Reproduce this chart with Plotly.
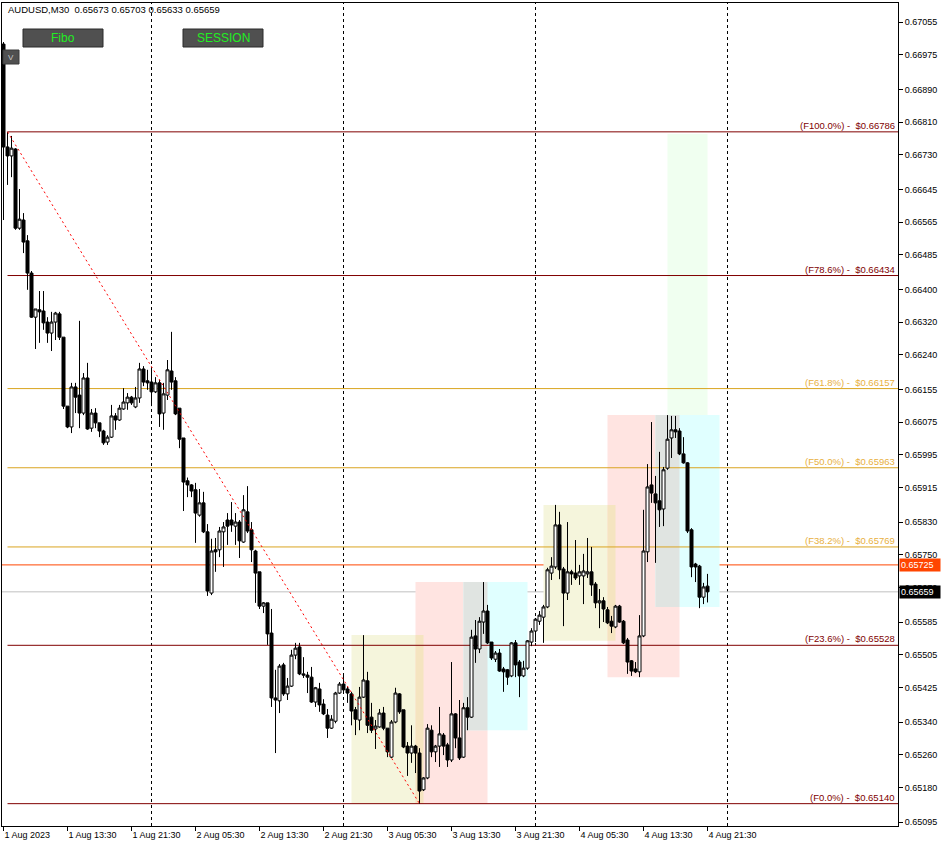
import pandas as pd
import plotly.graph_objects as go

# ---------------- data ----------------
symbol_text = "AUDUSD,M30  0.65673 0.65703 0.65633 0.65659"
bar_start = "2023-08-01 05:30"
n_bars = 177
times = pd.date_range(bar_start, periods=n_bars, freq="30min")

opens = [0.67001, 0.66749, 0.66727, 0.66744, 0.66550, 0.66570, 0.66519, 0.66440, 0.66332, 0.66350,
         0.66347, 0.66320, 0.66293, 0.66320, 0.66340, 0.66283, 0.66114, 0.66063, 0.66161, 0.66141,
         0.66097, 0.66183, 0.66060, 0.66097, 0.66073, 0.66053, 0.66026, 0.66038, 0.66090, 0.66080,
         0.66107, 0.66122, 0.66136, 0.66112, 0.66134, 0.66205, 0.66176, 0.66173, 0.66149, 0.66171,
         0.66097, 0.66141, 0.66200, 0.66176, 0.66109, 0.66036, 0.65931, 0.65921, 0.65909, 0.65847,
         0.65877, 0.65806, 0.65656, 0.65762, 0.65762, 0.65806, 0.65835, 0.65835, 0.65820, 0.65830,
         0.65781, 0.65855, 0.65811, 0.65759, 0.65708, 0.65624, 0.65632, 0.65558, 0.65399, 0.65392,
         0.65480, 0.65409, 0.65428, 0.65504, 0.65524, 0.65458, 0.65455, 0.65450, 0.65389, 0.65421,
         0.65384, 0.65357, 0.65325, 0.65342, 0.65411, 0.65433, 0.65421, 0.65409, 0.65370, 0.65345,
         0.65401, 0.65441, 0.65352, 0.65323, 0.65328, 0.65362, 0.65325, 0.65254, 0.65340, 0.65409,
         0.65370, 0.65281, 0.65264, 0.65281, 0.65264, 0.65174, 0.65203, 0.65320, 0.65267, 0.65281,
         0.65308, 0.65284, 0.65247, 0.65360, 0.65301, 0.65254, 0.65375, 0.65352, 0.65551, 0.65519,
         0.65585, 0.65612, 0.65536, 0.65494, 0.65509, 0.65470, 0.65468, 0.65453, 0.65534, 0.65487,
         0.65453, 0.65472, 0.65536, 0.65563, 0.65587, 0.65597, 0.65622, 0.65705, 0.65720, 0.65823,
         0.65715, 0.65656, 0.65708, 0.65705, 0.65698, 0.65698, 0.65703, 0.65708, 0.65678, 0.65632,
         0.65637, 0.65615, 0.65587, 0.65573, 0.65624, 0.65587, 0.65541, 0.65490, 0.65470, 0.65463,
         0.65551, 0.65757, 0.65921, 0.65899, 0.65882, 0.65862, 0.65962, 0.66036, 0.66056, 0.66053,
         0.65997, 0.65975, 0.65811, 0.65727, 0.65722, 0.65646, 0.65673]

highs = [0.67006, 0.66786, 0.66776, 0.66746, 0.66646, 0.66587, 0.66533, 0.66445, 0.66352, 0.66396,
         0.66396, 0.66332, 0.66345, 0.66345, 0.66345, 0.66283, 0.66114, 0.66171, 0.66171, 0.66323,
         0.66195, 0.66220, 0.66107, 0.66109, 0.66073, 0.66056, 0.66043, 0.66117, 0.66097, 0.66117,
         0.66158, 0.66146, 0.66139, 0.66161, 0.66220, 0.66212, 0.66203, 0.66210, 0.66185, 0.66178,
         0.66171, 0.66227, 0.66296, 0.66185, 0.66109, 0.66036, 0.65939, 0.65923, 0.65926, 0.65911,
         0.65904, 0.65825, 0.65789, 0.65791, 0.65818, 0.65830, 0.65852, 0.65879, 0.65852, 0.65835,
         0.65896, 0.65918, 0.65830, 0.65762, 0.65708, 0.65634, 0.65632, 0.65617, 0.65468, 0.65482,
         0.65485, 0.65448, 0.65517, 0.65534, 0.65534, 0.65499, 0.65463, 0.65475, 0.65426, 0.65436,
         0.65396, 0.65372, 0.65357, 0.65414, 0.65438, 0.65458, 0.65426, 0.65414, 0.65377, 0.65426,
         0.65553, 0.65463, 0.65387, 0.65345, 0.65372, 0.65377, 0.65325, 0.65345, 0.65424, 0.65411,
         0.65370, 0.65291, 0.65332, 0.65284, 0.65276, 0.65205, 0.65335, 0.65332, 0.65284, 0.65377,
         0.65313, 0.65289, 0.65487, 0.65362, 0.65394, 0.65387, 0.65401, 0.65566, 0.65590, 0.65597,
         0.65683, 0.65627, 0.65536, 0.65514, 0.65519, 0.65475, 0.65470, 0.65536, 0.65541, 0.65492,
         0.65490, 0.65541, 0.65570, 0.65595, 0.65612, 0.65627, 0.65718, 0.65744, 0.65872, 0.65855,
         0.65720, 0.65830, 0.65713, 0.65786, 0.65725, 0.65752, 0.65791, 0.65769, 0.65683, 0.65666,
         0.65646, 0.65622, 0.65600, 0.65627, 0.65627, 0.65590, 0.65546, 0.65492, 0.65487, 0.65602,
         0.65860, 0.65972, 0.66075, 0.65943, 0.66002, 0.65965, 0.66092, 0.66090, 0.66090, 0.66060,
         0.66038, 0.65977, 0.65815, 0.65730, 0.65725, 0.65681, 0.65703]

lows = [0.66570, 0.66656, 0.66675, 0.66546, 0.66546, 0.66489, 0.66399, 0.66330, 0.66254, 0.66269,
        0.66301, 0.66269, 0.66249, 0.66276, 0.66276, 0.66107, 0.66060, 0.66048, 0.66097, 0.66060,
        0.66092, 0.66056, 0.66051, 0.66060, 0.66038, 0.66019, 0.66019, 0.66036, 0.66056, 0.66078,
        0.66105, 0.66105, 0.66117, 0.66109, 0.66122, 0.66163, 0.66154, 0.66114, 0.66146, 0.66063,
        0.66056, 0.66129, 0.66154, 0.66092, 0.66011, 0.65857, 0.65891, 0.65891, 0.65779, 0.65843,
        0.65803, 0.65649, 0.65651, 0.65708, 0.65744, 0.65720, 0.65774, 0.65806, 0.65774, 0.65742,
        0.65779, 0.65803, 0.65732, 0.65632, 0.65617, 0.65607, 0.65529, 0.65377, 0.65264, 0.65362,
        0.65404, 0.65394, 0.65426, 0.65494, 0.65455, 0.65448, 0.65411, 0.65387, 0.65377, 0.65365,
        0.65357, 0.65301, 0.65323, 0.65337, 0.65409, 0.65409, 0.65387, 0.65332, 0.65308, 0.65320,
        0.65399, 0.65313, 0.65313, 0.65274, 0.65326, 0.65320, 0.65254, 0.65252, 0.65337, 0.65360,
        0.65276, 0.65208, 0.65240, 0.65215, 0.65140, 0.65171, 0.65200, 0.65254, 0.65242, 0.65230,
        0.65259, 0.65230, 0.65242, 0.65276, 0.65247, 0.65252, 0.65320, 0.65350, 0.65485, 0.65509,
        0.65556, 0.65531, 0.65492, 0.65487, 0.65463, 0.65414, 0.65431, 0.65450, 0.65450, 0.65401,
        0.65450, 0.65468, 0.65526, 0.65536, 0.65578, 0.65534, 0.65619, 0.65688, 0.65715, 0.65690,
        0.65575, 0.65639, 0.65676, 0.65688, 0.65676, 0.65629, 0.65693, 0.65649, 0.65619, 0.65570,
        0.65585, 0.65580, 0.65558, 0.65570, 0.65583, 0.65531, 0.65458, 0.65453, 0.65460, 0.65450,
        0.65548, 0.65732, 0.65877, 0.65730, 0.65818, 0.65820, 0.65958, 0.65987, 0.66036, 0.65994,
        0.65973, 0.65803, 0.65695, 0.65683, 0.65619, 0.65629, 0.65633]

closes = [0.66749, 0.66727, 0.66746, 0.66550, 0.66572, 0.66516, 0.66440, 0.66332, 0.66352, 0.66345,
          0.66318, 0.66293, 0.66320, 0.66342, 0.66283, 0.66114, 0.66063, 0.66161, 0.66136, 0.66097,
          0.66183, 0.66058, 0.66097, 0.66073, 0.66053, 0.66024, 0.66038, 0.66090, 0.66080, 0.66109,
          0.66124, 0.66136, 0.66122, 0.66134, 0.66205, 0.66173, 0.66171, 0.66149, 0.66171, 0.66095,
          0.66144, 0.66203, 0.66173, 0.66095, 0.66033, 0.65928, 0.65921, 0.65906, 0.65852, 0.65877,
          0.65806, 0.65661, 0.65759, 0.65757, 0.65808, 0.65818, 0.65820, 0.65823, 0.65830, 0.65784,
          0.65860, 0.65808, 0.65762, 0.65705, 0.65624, 0.65632, 0.65556, 0.65399, 0.65394, 0.65477,
          0.65409, 0.65428, 0.65504, 0.65521, 0.65458, 0.65455, 0.65450, 0.65389, 0.65424, 0.65382,
          0.65360, 0.65325, 0.65347, 0.65411, 0.65433, 0.65419, 0.65411, 0.65367, 0.65347, 0.65401,
          0.65443, 0.65332, 0.65320, 0.65330, 0.65362, 0.65325, 0.65267, 0.65340, 0.65411, 0.65365,
          0.65279, 0.65264, 0.65281, 0.65264, 0.65171, 0.65203, 0.65325, 0.65267, 0.65281, 0.65311,
          0.65281, 0.65247, 0.65360, 0.65301, 0.65252, 0.65375, 0.65352, 0.65548, 0.65519, 0.65587,
          0.65612, 0.65534, 0.65497, 0.65509, 0.65465, 0.65463, 0.65450, 0.65534, 0.65480, 0.65453,
          0.65472, 0.65539, 0.65563, 0.65592, 0.65602, 0.65622, 0.65713, 0.65722, 0.65823, 0.65713,
          0.65656, 0.65708, 0.65703, 0.65693, 0.65708, 0.65710, 0.65708, 0.65676, 0.65632, 0.65637,
          0.65617, 0.65583, 0.65575, 0.65624, 0.65585, 0.65534, 0.65487, 0.65465, 0.65463, 0.65551,
          0.65759, 0.65916, 0.65901, 0.65877, 0.65860, 0.65958, 0.66033, 0.66056, 0.66051, 0.65997,
          0.65975, 0.65808, 0.65720, 0.65720, 0.65646, 0.65671, 0.65659]

# Fibonacci levels
fib_pct = [100.0, 78.6, 61.8, 50.0, 38.2, 23.6, 0.0]
fib_price = [0.66786, 0.66434, 0.66157, 0.65963, 0.65769, 0.65528, 0.65140]
fib_colors = ["#800000", "#800000", "#DAA520", "#DAA520", "#DAA520", "#800000", "#800000"]
fib_label_colors = ["#800000", "#800000", "#E8B040", "#E8B040", "#E8B040", "#800000", "#800000"]
fib_anchor_bar = 1
fib_end_bar = 104

# Sessions
session_names = ["Asia", "London", "New York", "Asia", "London", "New York", "Range"]
session_start = ["2023-08-03 01:00", "2023-08-03 09:00", "2023-08-03 15:00",
                 "2023-08-04 01:00", "2023-08-04 09:00", "2023-08-04 15:00", "2023-08-04 16:30"]
session_end = ["2023-08-03 10:00", "2023-08-03 18:00", "2023-08-03 23:00",
               "2023-08-04 10:00", "2023-08-04 18:00", "2023-08-04 23:00", "2023-08-04 21:30"]
session_high = [0.65553, 0.65683, 0.65683, 0.65872, 0.66092, 0.66092, 0.66781]
session_low = [0.65140, 0.65140, 0.65320, 0.65539, 0.65450, 0.65622, 0.66092]
session_rgb = [(245, 245, 220), (255, 228, 225), (224, 255, 255),
               (245, 245, 220), (255, 228, 225), (224, 255, 255), (240, 255, 240)]
session_overlaps = [(0, 1), (1, 2), (3, 4), (4, 5)]

# Day separators
day_breaks = ["2023-08-02 00:00", "2023-08-03 00:00", "2023-08-04 00:00", "2023-08-05 00:00"]

# Price lines
ask_price = 0.65725
bid_price = 0.65659

# Axis ticks
y_ticks = [0.67055, 0.66975, 0.66890, 0.66810, 0.66730, 0.66645, 0.66565, 0.66485, 0.66400,
           0.66320, 0.66240, 0.66155, 0.66075, 0.65995, 0.65915, 0.65830, 0.65750, 0.65670,
           0.65585, 0.65505, 0.65425, 0.65340, 0.65260, 0.65180, 0.65095]
x_tick_labels = ["1 Aug 2023", "1 Aug 13:30", "1 Aug 21:30", "2 Aug 05:30", "2 Aug 13:30",
                 "2 Aug 21:30", "3 Aug 05:30", "3 Aug 13:30", "3 Aug 21:30", "4 Aug 05:30",
                 "4 Aug 13:30", "4 Aug 21:30"]
x_tick_step = 16

x_range = ["2023-08-01 05:18:45", "2023-08-05 21:18:45"]
y_range = [0.650853, 0.671017]

# ---------------- layout helpers ----------------
W, H = 942, 846
LM, RM, TM, BM = 2, 44, 3, 20
PW = W - LM - RM
PH = H - TM - BM


def px(x):
    return (x - LM) / PW


def py(y):
    return 1 - (y - TM) / PH


FONT = "Liberation Sans, Arial, sans-serif"

fig = go.Figure()

shapes = []
# session rectangles
for i in range(len(session_names)):
    r, g, b = session_rgb[i]
    shapes.append(dict(type="rect", xref="x", yref="y", x0=session_start[i], x1=session_end[i],
                       y0=session_low[i], y1=session_high[i], fillcolor=f"rgb({r},{g},{b})",
                       line=dict(width=0), layer="below"))
for a, b_ in session_overlaps:
    x0 = max(pd.Timestamp(session_start[a]), pd.Timestamp(session_start[b_]))
    x1 = min(pd.Timestamp(session_end[a]), pd.Timestamp(session_end[b_]))
    y0 = max(session_low[a], session_low[b_])
    y1 = min(session_high[a], session_high[b_])
    ca, cb = session_rgb[a], session_rgb[b_]
    c = tuple(ca[k] & cb[k] for k in range(3))
    shapes.append(dict(type="rect", xref="x", yref="y", x0=x0, x1=x1, y0=y0, y1=y1,
                       fillcolor=f"rgb({c[0]},{c[1]},{c[2]})", line=dict(width=0), layer="below"))

# day separators
for d in day_breaks:
    shapes.append(dict(type="line", xref="x", yref="paper", x0=d, x1=d, y0=0, y1=1,
                       line=dict(color="black", width=1, dash="3px,3px"), layer="below"))

# fib levels
for p, c in zip(fib_price, fib_colors):
    shapes.append(dict(type="line", xref="x", yref="y", x0=times[fib_anchor_bar], x1=x_range[1],
                       y0=p, y1=p, line=dict(color=c, width=1), layer="below"))

# ask / bid lines
shapes.append(dict(type="line", xref="paper", yref="y", x0=0, x1=1, y0=ask_price, y1=ask_price,
                   line=dict(color="#FF4500", width=1), layer="below"))
shapes.append(dict(type="line", xref="paper", yref="y", x0=0, x1=1, y0=bid_price, y1=bid_price,
                   line=dict(color="#C0C0C0", width=1), layer="below"))

# buttons
for (x0, x1) in [(23, 103), (183, 263)]:
    shapes.append(dict(type="rect", xref="paper", yref="paper", x0=px(x0), x1=px(x1),
                       y0=py(47), y1=py(29), fillcolor="#505050",
                       line=dict(color="#2A2A2A", width=1), layer="above"))
shapes.append(dict(type="rect", xref="paper", yref="paper", x0=px(3), x1=px(19),
                   y0=py(64), y1=py(50), fillcolor="#505050",
                   line=dict(color="#3A3A3A", width=1), layer="above"))

# fibo trend line
fig.add_trace(go.Scatter(x=[times[fib_anchor_bar], times[fib_end_bar]],
                         y=[highs[fib_anchor_bar], lows[fib_end_bar]],
                         mode="lines", line=dict(color="#FF0000", width=1, dash="2px,3px"),
                         hoverinfo="skip", showlegend=False))

fig.add_trace(go.Candlestick(
    x=times, open=opens, high=highs, low=lows, close=closes,
    increasing=dict(line=dict(color="black", width=1), fillcolor="white"),
    decreasing=dict(line=dict(color="black", width=1), fillcolor="black"),
    whiskerwidth=0, showlegend=False, hoverinfo="skip"))

annotations = []
for pct, p, c in zip(fib_pct, fib_price, fib_label_colors):
    annotations.append(dict(xref="paper", yref="y", x=px(896), y=p, xanchor="right", yanchor="bottom",
                            text=f"(F{pct:.1f}%) -\u00a0\u00a0${p:.5f}", showarrow=False,
                            font=dict(family=FONT, size=9.5, color=c), borderpad=0, yshift=0))

annotations.append(dict(xref="paper", yref="paper", x=px(6), y=py(10), xanchor="left",
                        yanchor="middle", text=symbol_text, showarrow=False,
                        font=dict(family=FONT, size=9.5, color="black")))
annotations.append(dict(xref="paper", yref="paper", x=px(63), y=py(38), xanchor="center",
                        yanchor="middle", text="Fibo", showarrow=False,
                        font=dict(family=FONT, size=12, color="#22EE22")))
annotations.append(dict(xref="paper", yref="paper", x=px(223), y=py(38), xanchor="center",
                        yanchor="middle", text="SESSION", showarrow=False,
                        font=dict(family=FONT, size=12, color="#22EE22")))
annotations.append(dict(xref="paper", yref="paper", x=px(11), y=py(57), xanchor="center",
                        yanchor="middle", text="V", showarrow=False,
                        font=dict(family=FONT, size=8, color="#C8C8C8")))
# price tags
annotations.append(dict(xref="paper", yref="y", x=1, y=ask_price, xanchor="left", yanchor="middle",
                        xshift=1, text=f"{ask_price:.5f}\u00a0\u00a0", showarrow=False,
                        bgcolor="#FF4500", font=dict(family=FONT, size=9, color="white"), borderpad=1))
annotations.append(dict(xref="paper", yref="y", x=1, y=bid_price, xanchor="left", yanchor="middle",
                        xshift=1, text=f"{bid_price:.5f}\u00a0\u00a0", showarrow=False,
                        bgcolor="black", font=dict(family=FONT, size=9, color="white"), borderpad=1))

fig.update_layout(
    width=W, height=H,
    margin=dict(l=LM, r=RM, t=TM, b=BM, pad=0),
    plot_bgcolor="white", paper_bgcolor="white",
    shapes=shapes, annotations=annotations,
    showlegend=False, boxgap=0.25, boxgroupgap=0,
    xaxis=dict(type="date", range=x_range, showgrid=False, zeroline=False,
               showline=True, linecolor="black", linewidth=1, mirror=True,
               ticks="outside", ticklen=4, tickcolor="black",
               tickvals=list(times[::x_tick_step]), ticktext=x_tick_labels,
               ticklabelposition="outside right",
               tickfont=dict(family=FONT, size=9, color="black"),
               rangeslider=dict(visible=False), automargin=False, fixedrange=True),
    yaxis=dict(side="right", range=y_range, showgrid=False, zeroline=False,
               showline=True, linecolor="black", linewidth=1, mirror=True,
               ticks="outside", ticklen=4, tickcolor="black",
               tickvals=y_ticks, ticktext=[f"{v:.5f}" for v in y_ticks],
               tickfont=dict(family=FONT, size=9, color="black"),
               automargin=False, fixedrange=True),
)

fig.write_html("out.html", config={"displayModeBar": False},
               post_script="document.body.style.margin='0px';document.body.style.padding='0px';")
